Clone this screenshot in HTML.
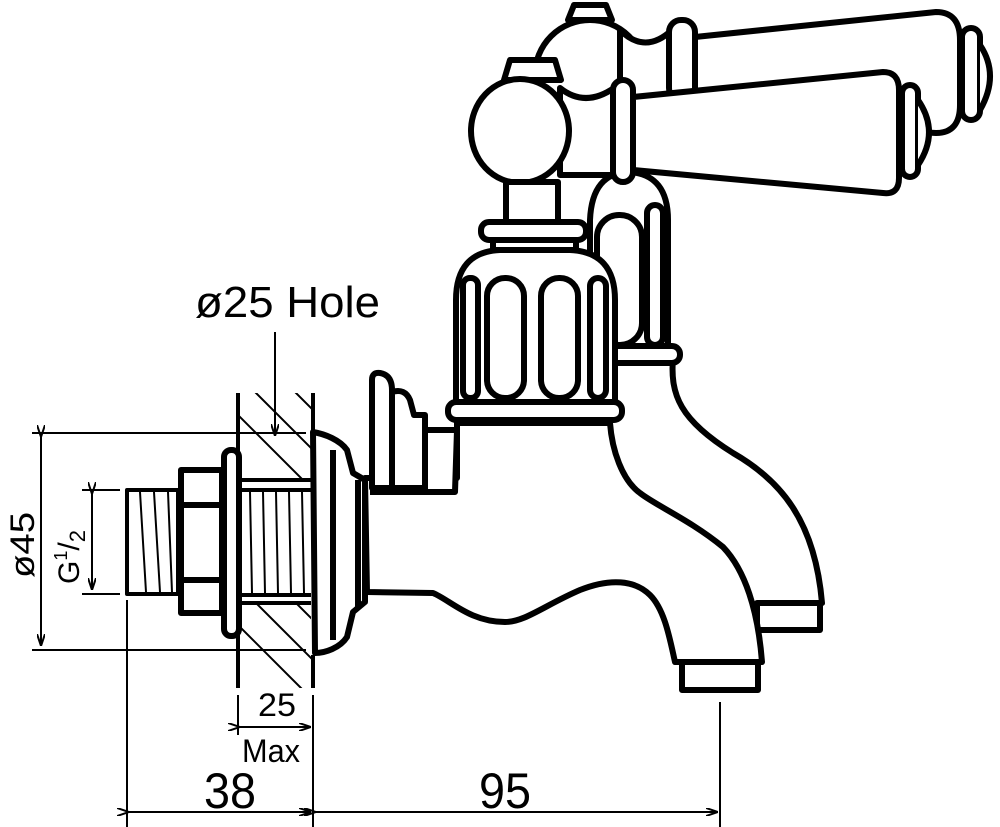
<!DOCTYPE html>
<html><head><meta charset="utf-8"><style>
html,body{margin:0;padding:0;background:#fff}
svg{display:block}
text{font-family:"Liberation Sans Narrow","Liberation Sans",sans-serif;fill:#000}
</style></head><body>
<svg width="1000" height="827" viewBox="0 0 1000 827" xmlns="http://www.w3.org/2000/svg">
<defs>
<marker id="ar" viewBox="0 0 12 8" refX="12" refY="4" markerWidth="12" markerHeight="8" orient="auto" markerUnits="userSpaceOnUse">
<path d="M0,0 L12,4 L0,8" fill="none" stroke="#000" stroke-width="2"/></marker>
<clipPath id="wall"><path d="M240,393 H311 V480 H240Z M240,603 H311 V688 H240Z"/></clipPath>
</defs>

<g fill="#fff" stroke="#000" stroke-width="6" stroke-linejoin="round">
<!-- BACK ASSEMBLY -->
<path d="M608,358 L673,358 C670,395 680,420 733,453 C780,480 815,520 822,603 L762,630 L700,630 L600,430 Z"/>
<rect x="757" y="603" width="63" height="27"/>
<path d="M568,20 L574,5 L606,5 L612,20 Z"/>
<circle cx="590" cy="75" r="55"/>
<path d="M620,30 Q645,55 672,30 L672,110 L620,110 Z"/>
<rect x="669" y="20" width="26" height="80" rx="12"/>
<path d="M695,37 L936,12 Q960,12 960,40 L960,105 Q960,133 936,133 L695,120 Z"/>
<rect x="962" y="28" width="18" height="92" rx="9"/>
<path d="M980,45 Q1000,75 980,110"/>
<path d="M590,347 L590,220 Q592,172 630,172 Q668,175 668,220 L668,347 Z"/>
<rect x="597" y="215" width="45" height="130" rx="22"/>
<rect x="647" y="205" width="16" height="140" rx="8"/>
<rect x="604" y="346" width="76" height="17" rx="8"/>

<!-- FRONT SPOUT / BODY -->
<path d="M365,478 L457,478 L457,423 L610,423 C612,450 622,480 640,493 C655,505 690,520 723,547 C745,570 758,610 762,662 L675,662 C670,640 665,610 650,595 C635,580 610,578 580,590 C545,605 525,622 505,622 C470,622 450,600 433,593 L367,592 Z"/>
<rect x="682" y="662" width="76" height="28"/>
<path d="M372,488 L372,380 Q372,372 380,373 Q392,375 392,390 L392,488 Z"/>
<path d="M392,488 L392,392 Q405,388 410,400 L414,415 L425,415 L425,488 Z"/>
<path d="M370,492 L455,492 L457,430 L425,430 L425,492"/>
<path d="M313,432 C325,434 340,440 347,450 L353,473 L365,480 L365,602 L353,612 L347,637 C340,648 325,653 315,653 Z"/>
<path d="M333,450 L333,640 M358,480 L358,608" fill="none"/>

<!-- FRONT HANDLE -->
<path d="M560,88 Q585,108 614,88 L614,175 L560,175 Z"/>
<rect x="613" y="80" width="20" height="102" rx="10"/>
<path d="M633,97 L883,72 Q899,72 899,90 L899,178 Q899,195 883,193 L633,170 Z"/>
<rect x="902" y="85" width="16" height="92" rx="8"/>
<path d="M918,100 Q940,132 918,165"/>
<path d="M504,80 L510,60 L555,60 L561,80 Z"/>
<ellipse cx="520" cy="131" rx="49" ry="52"/>
<rect x="506" y="182" width="52" height="40"/>
<rect x="481" y="222" width="105" height="18" rx="8"/>
<rect x="493" y="240" width="83" height="10"/>
<path d="M456,405 L456,300 Q456,252 500,250 L570,250 Q615,252 615,300 L615,405 Z"/>
<rect x="463" y="278" width="15" height="120" rx="7"/>
<rect x="487" y="278" width="37" height="120" rx="18"/>
<rect x="541" y="278" width="37" height="120" rx="18"/>
<rect x="590" y="278" width="16" height="120" rx="8"/>
<rect x="448" y="402" width="174" height="18" rx="8"/>

<!-- WALL / FITTINGS -->
<rect x="224" y="450" width="15" height="186" rx="7"/>
<rect x="181" y="470" width="41" height="143"/>
<path d="M181,505 H222 M181,580 H222" fill="none"/>
<rect x="127" y="490" width="51" height="104" stroke-width="4"/>
</g>
<g stroke="#000" stroke-width="2" fill="none">
<path d="M140,492 L146,592 M154,492 L160,592 M168,492 L172,592"/>
<path d="M250,492 L252,593 M263,492 L265,593 M276,492 L278,593 M289,492 L291,593 M302,492 L304,593"/>
<g clip-path="url(#wall)">
<path d="M173,350 L313,490 M213,350 L353,490 M253,350 L393,490 M293,350 L433,490 M213,520 L393,700 M173,520 L353,700 M133,520 L313,700 M253,520 L433,700"/>
</g>
</g>
<g stroke="#000" stroke-width="4" fill="none">
<path d="M238,393 V688 M313,393 V430 M313,655 V688"/>
<path d="M240,480 H311 M240,490 H311 M240,595 H311 M240,603 H311"/>
</g>

<g stroke="#000" stroke-width="2" fill="none">
<path d="M32,433 H306 M32,650 H306"/>
<path d="M41,437 V646" marker-start="url(#ar)" marker-end="url(#ar)"/>
<path d="M82,490 H120 M82,594 H120"/>
<path d="M92,494 V590" marker-start="url(#ar)" marker-end="url(#ar)"/>
<path d="M275,332 V436" marker-end="url(#ar)"/>
<path d="M238,695 V735 M313,695 V827 M127,600 V827 M720,702 V827"/>
<path d="M240,727 H311" marker-start="url(#ar)" marker-end="url(#ar)"/>
<path d="M129,812 H311" marker-start="url(#ar)" marker-end="url(#ar)"/>
<path d="M316,812 H718" marker-start="url(#ar)" marker-end="url(#ar)"/>
</g>
<text x="195" y="317" font-size="44" textLength="185" lengthAdjust="spacingAndGlyphs">ø25 Hole</text>
<text x="258" y="716" font-size="32" textLength="38" lengthAdjust="spacingAndGlyphs">25</text>
<text x="242" y="762" font-size="32" textLength="58" lengthAdjust="spacingAndGlyphs">Max</text>
<text x="204" y="808" font-size="50" textLength="52" lengthAdjust="spacingAndGlyphs">38</text>
<text x="479" y="808" font-size="50" textLength="52" lengthAdjust="spacingAndGlyphs">95</text>
<text transform="translate(34,578) rotate(-90)" font-size="34" textLength="66" lengthAdjust="spacingAndGlyphs">ø45</text>
<text transform="translate(79,584) rotate(-90)" font-size="30">G<tspan font-size="18" dy="-12">1</tspan><tspan dy="12">/</tspan><tspan font-size="22" dy="6">2</tspan></text>
</svg>
</body></html>
